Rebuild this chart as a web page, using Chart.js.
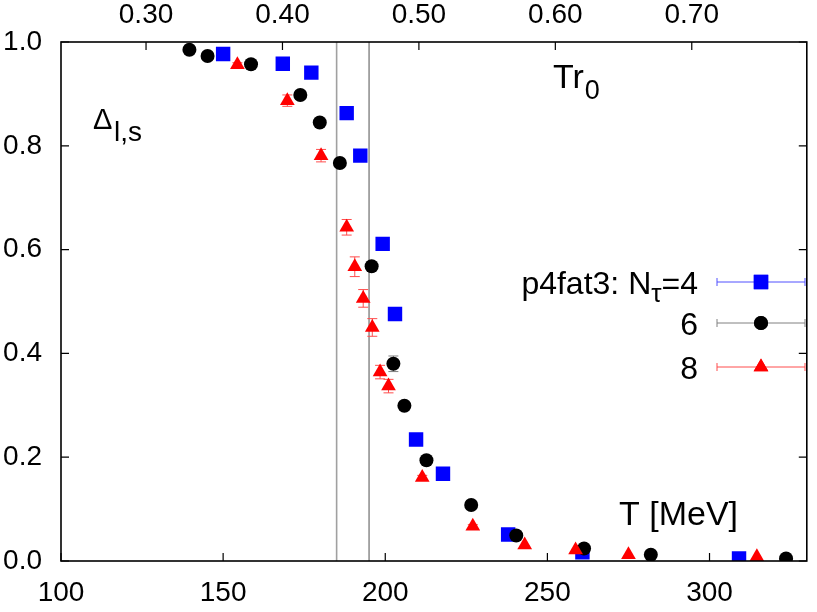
<!DOCTYPE html>
<html>
<head>
<meta charset="utf-8">
<script src="https://cdn.jsdelivr.net/npm/chart.js@4/dist/chart.umd.min.js"></script>
<style>
  body { margin: 0; background: #fff; }
</style>
</head>
<body>
<canvas id="c" width="817" height="612"></canvas>
<script>
// conversion T = hbarc/r0 * (T r0)
const R0 = 420.75;

const tTicks = [100, 150, 200, 250, 300];
const trTicks = [0.30, 0.40, 0.50, 0.60, 0.70];
const yTicks = [0.0, 0.2, 0.4, 0.6, 0.8, 1.0];
const tcLines = [185, 195];

// p4fat3 Ntau=4
const t4 = [150.0, 168.4, 177.2, 188.1, 192.3, 199.2, 203.0, 209.5, 217.8, 237.9, 260.8, 309.1];
const d4 = [0.977, 0.958, 0.941, 0.863, 0.781, 0.611, 0.476, 0.234, 0.168, 0.051, 0.017, 0.005];
const e4 = [0, 0, 0, 0, 0, 0, 0, 0, 0, 0, 0, 0];

// Ntau=6
const t6 = [139.6, 145.2, 158.6, 173.8, 179.8, 186.0, 195.8, 202.5, 205.9, 212.7, 226.5, 240.4, 261.3, 281.9, 323.6];
const d6 = [0.985, 0.973, 0.957, 0.898, 0.845, 0.767, 0.568, 0.380, 0.299, 0.194, 0.108, 0.049, 0.024, 0.012, 0.005];
const e6 = [0, 0, 0, 0, 0, 0, 0, 0.015, 0, 0, 0, 0, 0, 0, 0];

// Ntau=8
const t8 = [154.4, 169.8, 180.2, 188.1, 190.6, 193.2, 196.0, 198.4, 201.0, 211.4, 227.0, 243.0, 258.7, 275.0, 314.6];
const d8 = [0.956, 0.887, 0.781, 0.643, 0.567, 0.506, 0.450, 0.364, 0.337, 0.161, 0.067, 0.031, 0.021, 0.012, 0.008];
const e8 = [0.004, 0.011, 0.012, 0.015, 0.019, 0.017, 0.017, 0.013, 0.013, 0.004, 0.003, 0, 0, 0, 0];

const pts = (xs, ys) => xs.map((x, i) => ({ x: x, y: ys[i] }));
const FONT = "'Liberation Sans', Arial, sans-serif";

const frame = {
  id: 'frame',
  beforeDatasetsDraw(chart) {
    const { ctx, chartArea: a, scales } = chart;
    ctx.save();
    // vertical lines at the transition region
    const cols = ['#a0a0a0', '#505050'];
    const wid = [1.6, 1];
    tcLines.forEach((t, i) => {
      const x = scales.x.getPixelForValue(t);
      ctx.strokeStyle = cols[i];
      ctx.lineWidth = wid[i];
      ctx.beginPath();
      ctx.moveTo(x, a.top);
      ctx.lineTo(x, a.bottom);
      ctx.stroke();
    });
    // error bars
    chart.data.datasets.forEach(ds => {
      if (!ds.err) return;
      ctx.strokeStyle = ds.errColor;
      ctx.lineWidth = 1;
      ds.data.forEach((p, i) => {
        const e = ds.err[i];
        if (!e) return;
        const x = scales.x.getPixelForValue(p.x);
        const y1 = scales.y.getPixelForValue(p.y - e);
        const y2 = scales.y.getPixelForValue(p.y + e);
        ctx.beginPath();
        ctx.moveTo(x, y1); ctx.lineTo(x, y2);
        ctx.moveTo(x - 5, y1); ctx.lineTo(x + 5, y1);
        ctx.moveTo(x - 5, y2); ctx.lineTo(x + 5, y2);
        ctx.stroke();
      });
    });
    ctx.restore();
  },
  afterDraw(chart) {
    const { ctx, chartArea: a, scales } = chart;
    ctx.save();
    // ticks pointing inwards
    ctx.strokeStyle = '#000';
    ctx.lineWidth = 1.2;
    ctx.beginPath();
    tTicks.forEach(t => {
      const x = scales.x.getPixelForValue(t);
      ctx.moveTo(x, a.bottom); ctx.lineTo(x, a.bottom - 8);
    });
    trTicks.forEach(t => {
      const x = scales.x2.getPixelForValue(t);
      ctx.moveTo(x, a.top); ctx.lineTo(x, a.top + 8);
    });
    yTicks.forEach(v => {
      const y = scales.y.getPixelForValue(v);
      ctx.moveTo(a.left, y); ctx.lineTo(a.left + 8, y);
      ctx.moveTo(a.right, y); ctx.lineTo(a.right - 8, y);
    });
    ctx.stroke();
    // border
    ctx.lineWidth = 1.6;
    ctx.strokeRect(a.left, a.top, a.right - a.left, a.bottom - a.top);

    // labels
    ctx.fillStyle = '#000';
    ctx.textBaseline = 'alphabetic';
    ctx.textAlign = 'left';
    ctx.font = '29px ' + FONT;
    ctx.fillText('\u0394', 93, 129);
    ctx.font = '28px ' + FONT;
    ctx.fillText('l,s', 114, 141);

    ctx.font = '34px ' + FONT;
    ctx.fillText('Tr', 553, 88);
    let w = ctx.measureText('Tr').width;
    ctx.font = '27px ' + FONT;
    ctx.fillText('0', 553 + w + 1, 99);

    ctx.font = '34px ' + FONT;
    ctx.fillText('T [MeV]', 619, 525);

    // legend
    const rx = 698;
    const rows = [
      { y: 282, color: '#0000ff', bar: '#5050ff', style: 'rect', r: 10.2 },
      { y: 323, color: '#000000', bar: '#808080', style: 'circle', r: 7 },
      { y: 367, color: '#ff0000', bar: '#ff4d4d', style: 'triangle', r: 8.5 }
    ];
    const LF = 32, SF = 26;
    ctx.font = LF + 'px ' + FONT;
    ctx.textAlign = 'left';
    const main = 'p4fat3: N', tail = '=4';
    const wm = ctx.measureText(main).width;
    const wt = ctx.measureText(tail).width;
    ctx.font = SF + 'px ' + FONT;
    const ws = ctx.measureText('\u03c4').width;
    const x0 = rx - wm - ws - wt;
    ctx.font = LF + 'px ' + FONT;
    ctx.fillText(main, x0, rows[0].y + 12);
    ctx.fillText(tail, x0 + wm + ws, rows[0].y + 12);
    ctx.font = SF + 'px ' + FONT;
    ctx.fillText('\u03c4', x0 + wm, rows[0].y + 20);
    ctx.font = LF + 'px ' + FONT;
    ctx.textAlign = 'right';
    ctx.fillText('6', rx, rows[1].y + 12);
    ctx.fillText('8', rx, rows[2].y + 12);

    rows.forEach(r => {
      ctx.strokeStyle = r.bar;
      ctx.lineWidth = 1;
      ctx.beginPath();
      ctx.moveTo(717, r.y); ctx.lineTo(805, r.y);
      ctx.moveTo(717, r.y - 4); ctx.lineTo(717, r.y + 4);
      ctx.moveTo(805, r.y - 4); ctx.lineTo(805, r.y + 4);
      ctx.stroke();
      ctx.fillStyle = r.color;
      Chart.helpers.drawPoint(ctx, { pointStyle: r.style, radius: r.r, rotation: 0, borderWidth: 0 }, 761, r.y);
      ctx.fill();
    });
    ctx.restore();
  }
};

const tickFont = { family: FONT, size: 28 };

new Chart(document.getElementById('c'), {
  type: 'scatter',
  data: {
    datasets: [
      { label: 'p4fat3: Ntau=4', data: pts(t4, d4), err: e4, errColor: '#5050ff',
        pointStyle: 'rect', pointRadius: 10.2, backgroundColor: '#0000ff', borderColor: '#0000ff', borderWidth: 0, order: 3 },
      { label: '6', data: pts(t6, d6), err: e6, errColor: '#808080',
        pointStyle: 'circle', pointRadius: 7, backgroundColor: '#000000', borderColor: '#000000', borderWidth: 0, order: 2 },
      { label: '8', data: pts(t8, d8), err: e8, errColor: '#ff4d4d',
        pointStyle: 'triangle', pointRadius: 8.5, backgroundColor: '#ff0000', borderColor: '#ff0000', borderWidth: 0, order: 1 }
    ]
  },
  options: {
    responsive: false,
    animation: false,
    events: [],
    layout: { padding: { right: 2 } },
    plugins: { legend: { display: false }, tooltip: { enabled: false } },
    scales: {
      x: {
        type: 'linear', position: 'bottom', min: 100, max: 330,
        afterBuildTicks: s => { s.ticks = tTicks.map(v => ({ value: v })); },
        afterFit: s => { s.height = 51; },
        grid: { display: false, drawTicks: false },
        border: { display: false },
        ticks: { font: tickFont, color: '#000', padding: 15, maxRotation: 0, autoSkip: false }
      },
      x2: {
        type: 'linear', position: 'top', min: 100 / R0, max: 330 / R0,
        afterBuildTicks: s => { s.ticks = trTicks.map(v => ({ value: v })); },
        afterFit: s => { s.height = 42; },
        grid: { display: false, drawTicks: false },
        border: { display: false },
        ticks: { font: tickFont, color: '#000', padding: 10, maxRotation: 0, autoSkip: false,
                 callback: v => v.toFixed(2) }
      },
      y: {
        type: 'linear', position: 'left', min: 0, max: 1,
        afterBuildTicks: s => { s.ticks = yTicks.map(v => ({ value: v })); },
        afterFit: s => { s.width = 61; },
        grid: { display: false, drawTicks: false },
        border: { display: false },
        ticks: { font: tickFont, color: '#000', padding: 19, callback: v => v.toFixed(1) }
      }
    }
  },
  plugins: [frame]
});
</script>
</body>
</html>
